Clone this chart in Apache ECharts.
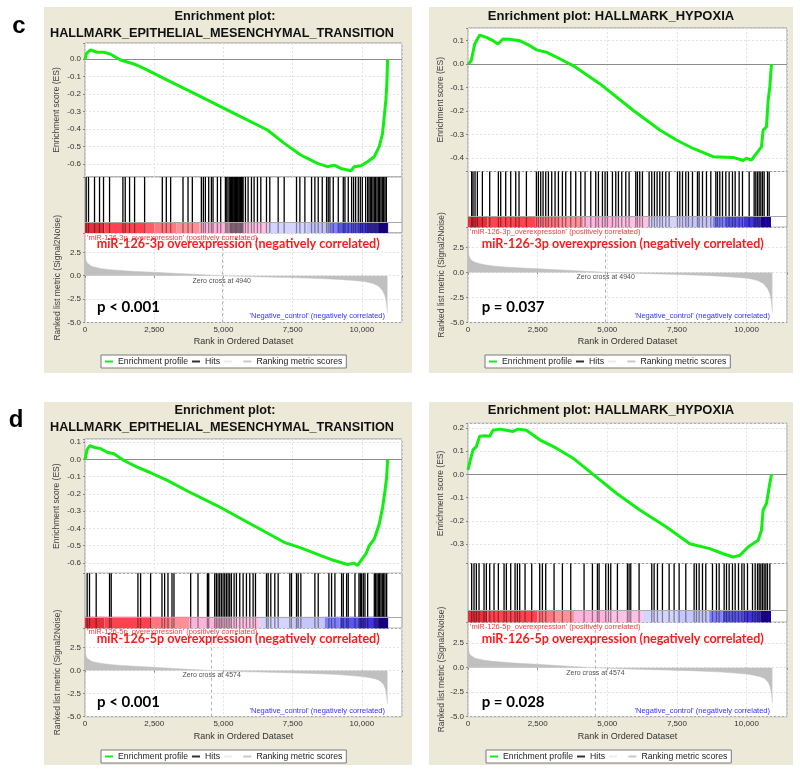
<!DOCTYPE html>
<html><head><meta charset="utf-8">
<script src="https://cdn.jsdelivr.net/npm/echarts@6/dist/echarts.min.js"></script>
<style>html,body{margin:0;padding:0;background:#fff;}#main{width:800px;height:773px;}</style>
</head><body><div id="main"></div>
<script>
// ---------------- DATA ----------------
const rankTickLabels = ['0', '2,500', '5,000', '7,500', '10,000'];
const rankTickValues = [0, 2500, 5000, 7500, 10000];

// Enrichment score curves
const emt3pRank = [0, 54, 199, 440, 680, 922, 1284, 1765, 2127, 2972, 4177, 5383, 6590, 7190, 7793, 8397, 8760, 8999, 9240, 9602, 9723, 9964, 10205, 10446, 10627, 10748, 10808, 10868, 10904, 10929];
const emt3pES   = [0, 0.034, 0.053, 0.04, 0.04, 0.029, -0.004, -0.027, -0.052, -0.119, -0.214, -0.31, -0.405, -0.48, -0.548, -0.596, -0.615, -0.606, -0.625, -0.638, -0.615, -0.61, -0.587, -0.558, -0.5, -0.424, -0.33, -0.233, -0.138, 0];

const hyp3pRank = [0, 120, 240, 419, 658, 898, 1077, 1257, 1496, 1855, 2214, 2454, 2813, 3292, 3771, 4728, 5925, 6883, 7481, 8080, 8798, 9516, 9875, 9995, 10174, 10354, 10533, 10593, 10713, 10773, 10833, 10893];
const hyp3pES   = [0, 0.016, 0.086, 0.124, 0.114, 0.10, 0.086, 0.107, 0.106, 0.10, 0.079, 0.061, 0.051, 0.023, -0.006, -0.083, -0.196, -0.28, -0.323, -0.359, -0.394, -0.397, -0.41, -0.401, -0.408, -0.38, -0.352, -0.281, -0.267, -0.154, -0.097, 0];

const emt5pRank = [0, 78, 175, 320, 560, 802, 1043, 1405, 1887, 2370, 2973, 3696, 4781, 5987, 7193, 7795, 8518, 9000, 9483, 9724, 9845, 9966, 10146, 10267, 10448, 10629, 10750, 10834, 10894, 10930];
const emt5pES   = [0, 0.058, 0.08, 0.071, 0.063, 0.042, 0.033, -0.006, -0.044, -0.077, -0.121, -0.183, -0.269, -0.375, -0.481, -0.513, -0.558, -0.587, -0.61, -0.602, -0.615, -0.587, -0.548, -0.5, -0.462, -0.375, -0.279, -0.183, -0.106, 0];

const hyp5pRank = [0, 84, 180, 300, 419, 599, 778, 898, 1137, 1377, 1616, 1796, 2095, 2574, 3172, 3771, 4489, 5327, 6165, 7122, 7960, 8678, 9157, 9516, 9756, 10055, 10414, 10533, 10593, 10713, 10833, 10893];
const hyp5pES   = [0.02, 0.063, 0.106, 0.12, 0.164, 0.166, 0.164, 0.19, 0.195, 0.19, 0.185, 0.195, 0.19, 0.149, 0.113, 0.07, 0.0, -0.081, -0.153, -0.226, -0.298, -0.319, -0.341, -0.355, -0.348, -0.312, -0.283, -0.24, -0.153, -0.125, -0.038, 0];

// Hit positions (ranks)
const emt3pHits = [42, 127, 344, 525, 669, 887, 1369, 1453, 1610, 1791, 2153, 2792, 2937, 3093, 3540, 3721, 3877, 4203, 4275, 4348, 4468, 4565, 4625, 4782, 4902, 5071, 5120, 5168, 5228, 5260, 5288, 5320, 5349, 5380, 5409, 5440, 5469, 5500, 5530, 5560, 5590, 5620, 5650, 5680, 5711, 5795, 5891, 6012, 6108, 6229, 6350, 6555, 6675, 6977, 7194, 7640, 7761, 7942, 8183, 8303, 8424, 8569, 8725, 8786, 8846, 8967, 9148, 9329, 9389, 9509, 9630, 9702, 9775, 9871, 9944, 10016, 10137, 10209, 10257, 10305, 10354, 10402, 10450, 10498, 10547, 10595, 10643, 10691, 10739, 10788, 10836, 10884];
const hyp3pHits = [132, 180, 252, 336, 516, 779, 1090, 1174, 1353, 1533, 1713, 1832, 2096, 2455, 2526, 2610, 2694, 2790, 2886, 3005, 3125, 3245, 3388, 3508, 3688, 3867, 4047, 4202, 4406, 4585, 4681, 4825, 4920, 5004, 5184, 5304, 5399, 5519, 5663, 5782, 6022, 6082, 6165, 6261, 6501, 6596, 6692, 6788, 6884, 6979, 7099, 7219, 7518, 7602, 7698, 7817, 7913, 8057, 8236, 8296, 8416, 8559, 8715, 8895, 8954, 9038, 9134, 9254, 9373, 9493, 9589, 9732, 9852, 10092, 10271, 10331, 10391, 10451, 10510, 10570, 10630, 10750, 10810];
const emt5pHits = [78, 163, 404, 887, 947, 1912, 2008, 2370, 2780, 2876, 2997, 3142, 3214, 3817, 4082, 4420, 4468, 4685, 4746, 4806, 4866, 4927, 4987, 5047, 5108, 5168, 5228, 5288, 5385, 5469, 5590, 5711, 5831, 5952, 6072, 6157, 6555, 6615, 6711, 6856, 6977, 7399, 7459, 7640, 7700, 7797, 8303, 8424, 8810, 8906, 9027, 9268, 9329, 9449, 9509, 9751, 9895, 9944, 9992, 10052, 10112, 10209, 10450, 10498, 10547, 10595, 10643, 10691, 10739, 10788, 10836, 10896];
const hyp5pHits = [132, 216, 300, 396, 575, 659, 779, 934, 1090, 1294, 1377, 1533, 1689, 1772, 1856, 2048, 2287, 2574, 2670, 2790, 3089, 3388, 3688, 4166, 4466, 4645, 4705, 4944, 5040, 5124, 5363, 5722, 5782, 5842, 6141, 6596, 6680, 6800, 6979, 7219, 7398, 7578, 7817, 8116, 8200, 8296, 8416, 8535, 8775, 8918, 9014, 9194, 9278, 9373, 9493, 9589, 9709, 9829, 9912, 10032, 10212, 10307, 10391, 10451, 10510, 10570, 10630, 10690, 10750, 10834];

// Colour bar bands (rank edges, metric level per band)
const emt3pBandEdges = [0, 700, 2150, 2510, 3300, 4140, 5045, 6590, 8000, 8845, 9145, 9900, 10590, 10950];
const emt3pBandLevels = [0, 1, 2, 3, 4, 5, 6, 7, 8, 9, 10, 11, 12];
const hyp3pBandEdges = [0, 700, 2430, 3300, 4130, 5300, 6500, 7700, 8780, 9260, 9900, 10510, 10875];
const hyp3pBandLevels = [0, 1, 3, 4, 5, 6, 7, 8, 9, 10, 11, 12];
const emt5pBandEdges = [0, 700, 2390, 3100, 3780, 5000, 6310, 7500, 8660, 9200, 9900, 10590, 10950];
const emt5pBandLevels = [0, 1, 3, 4, 5, 6, 7, 8, 9, 10, 11, 12];
const hyp5pBandEdges = [0, 700, 2490, 3150, 3810, 5000, 6260, 7500, 8660, 9140, 9900, 10510, 10875];
const hyp5pBandLevels = [0, 1, 3, 4, 5, 6, 7, 8, 9, 10, 11, 12];

// Ranked list metric (Signal2Noise)
const metric3pRank  = [0, 15, 40, 80, 150, 250, 400, 600, 900, 1300, 1800, 2500, 3200, 4000, 4600, 4940, 5500, 6500, 7500, 8500, 9200, 9700, 10100, 10400, 10600, 10750, 10830, 10880, 10905, 10925];
const metric3pValue = [2.7, 2.0, 1.6, 1.35, 1.15, 1.0, 0.88, 0.76, 0.65, 0.55, 0.46, 0.36, 0.26, 0.15, 0.06, 0.0, -0.06, -0.13, -0.2, -0.3, -0.4, -0.5, -0.62, -0.82, -1.1, -1.6, -2.1, -2.7, -3.3, -4.0];
const metric5pRank  = [0, 15, 40, 80, 150, 250, 400, 600, 900, 1300, 1800, 2500, 3200, 3900, 4574, 5200, 6000, 7000, 8000, 9000, 9600, 10000, 10300, 10500, 10650, 10780, 10850, 10895, 10925];
const metric5pValue = [2.5, 1.9, 1.55, 1.3, 1.12, 0.98, 0.87, 0.76, 0.65, 0.55, 0.45, 0.35, 0.22, 0.1, 0.0, -0.08, -0.15, -0.22, -0.3, -0.42, -0.55, -0.65, -0.78, -0.92, -1.1, -1.5, -2.0, -2.7, -3.6];
const zeroCross3p = 4940;
const zeroCross5p = 4574;

// Texts
const panelLetters = ['c', 'd'];
const titleEmtLine1 = 'Enrichment plot:';
const titleEmtLine2 = 'HALLMARK_EPITHELIAL_MESENCHYMAL_TRANSITION';
const titleHypoxia = 'Enrichment plot: HALLMARK_HYPOXIA';
const posLabel3p = "'miR-126-3p_overexpression' (positively correlated)";
const posLabel5p = "'miR-126-5p_overexpression' (positively correlated)";
const negLabel = "'Negative_control' (negatively correlated)";
const bigLabel3p = 'miR-126-3p overexpression (negatively correlated)';
const bigLabel5p = 'miR-126-5p overexpression (negatively correlated)';
const pValues = ['p < 0.001', 'p = 0.037', 'p < 0.001', 'p = 0.028'];
const legendNames = ['Enrichment profile', 'Hits', ' ', 'Ranking metric scores'];

// ---------------- STYLE / LAYOUT ----------------
const palette = ['#e8303c', '#ff4250', '#ff5c68', '#ff7880', '#ff9098', '#ffb4dc', '#ffc2e4', '#d4d4ff', '#c6c6fc', '#8080ff', '#5a56ec', '#4434dc', '#2200bc'];
const BEIGE = '#ece9d8';
const X_MAX = 11450;
const zip = (a, b) => a.map((v, i) => [v, b[i]]);
const bandsOf = (edges, levels) => levels.map((lv, i) => [edges[i], edges[i + 1], lv]);

const panels = [
  { box: [44, 7, 368, 366], left: 85, width: 317, esTop: 43, stripTop: 177, cbTop: 222, metTop: 233, metBot: 322.5,
    esMin: -0.674, esMax: 0.093, metMax: 4.57, esGap: 24, metGap: 23, legendLeft: 101, legendTop: 355,
    es: zip(emt3pRank, emt3pES), hits: emt3pHits, bands: bandsOf(emt3pBandEdges, emt3pBandLevels),
    metric: zip(metric3pRank, metric3pValue), zc: zeroCross3p,
    titles: [[titleEmtLine1, 225, 16.7, 12.7], [titleEmtLine2, 222, 33, 12.7]],
    small: [posLabel3p, 87, 237.7], big: [bigLabel3p, 96.7, 244, 283], p: [pValues[0], 97, 306.7], neg: [negLabel, 385, 316] },
  { box: [429, 7, 364, 366], left: 468, width: 319, esTop: 28, stripTop: 171.5, cbTop: 216.7, metTop: 227.3, metBot: 322.5,
    esMin: -0.457, esMax: 0.154, metMax: 4.5, esGap: 23, metGap: 21, legendLeft: 485, legendTop: 355,
    es: zip(hyp3pRank, hyp3pES), hits: hyp3pHits, bands: bandsOf(hyp3pBandEdges, hyp3pBandLevels),
    metric: zip(metric3pRank, metric3pValue), zc: zeroCross3p,
    titles: [[titleHypoxia, 611, 16.7, 13]],
    small: [posLabel3p, 470, 232.3], big: [bigLabel3p, 481.7, 244, 282], p: [pValues[1], 481.7, 306.7], neg: [negLabel, 770, 316] },
  { box: [44, 402, 368, 363], left: 85, width: 317, esTop: 439, stripTop: 573.3, cbTop: 616.7, metTop: 628.3, metBot: 716.7,
    esMin: -0.661, esMax: 0.119, metMax: 4.56, esGap: 24, metGap: 23, legendLeft: 101, legendTop: 750,
    es: zip(emt5pRank, emt5pES), hits: emt5pHits, bands: bandsOf(emt5pBandEdges, emt5pBandLevels),
    metric: zip(metric5pRank, metric5pValue), zc: zeroCross5p,
    titles: [[titleEmtLine1, 225, 410.7, 12.7], [titleEmtLine2, 222, 427.3, 12.7]],
    small: [posLabel5p, 87, 631.7], big: [bigLabel5p, 96.7, 638.3, 283], p: [pValues[2], 97, 701.7], neg: [negLabel, 385, 710.7] },
  { box: [429, 402, 364, 363], left: 468, width: 319, esTop: 423.3, stripTop: 563.5, cbTop: 610, metTop: 622.3, metBot: 716.7,
    esMin: -0.383, esMax: 0.22, metMax: 4.64, esGap: 23, metGap: 21, legendLeft: 486, legendTop: 750,
    es: zip(hyp5pRank, hyp5pES), hits: hyp5pHits, bands: bandsOf(hyp5pBandEdges, hyp5pBandLevels),
    metric: zip(metric5pRank, metric5pValue), zc: zeroCross5p,
    titles: [[titleHypoxia, 611, 410.7, 13]],
    small: [posLabel5p, 470, 626.7], big: [bigLabel5p, 481.7, 639, 282], p: [pValues[3], 481.7, 701.7], neg: [negLabel, 770, 710.7] }
];

const FONT = "'Liberation Sans', Arial, sans-serif";
const BIGFONT = "bold 13.5px Lato, 'Open Sans', sans-serif";
const PFONT = "bold 15px Lato, 'Liberation Sans', sans-serif";
const measureCtx = document.createElement('canvas').getContext('2d');
const textWidth = (t, f) => { measureCtx.font = f; return measureCtx.measureText(t).width; };

const fmtStep = step => v => {
  const k = v / step;
  if (Math.abs(k - Math.round(k)) > 1e-6) return '';
  const r = Math.round(k) * step;
  return (Math.abs(r) < 1e-9 ? 0 : r).toFixed(1);
};
const fmtRank = v => { const i = rankTickValues.indexOf(Math.round(v)); return i >= 0 ? rankTickLabels[i] : ''; };
const gridLine = { show: true, lineStyle: { color: '#e2e2e2', type: [2, 2], width: 1 } };

const grid = [], xAxis = [], yAxis = [], series = [], legend = [], graphic = [];

panels.forEach((P, pi) => {
  const g0 = grid.length;
  const gBase = { left: P.left, width: P.width, show: true, backgroundColor: '#fff', borderColor: '#9a9a9a', borderWidth: 1 };
  grid.push(Object.assign({}, gBase, { top: P.esTop, height: P.stripTop - P.esTop }));
  grid.push(Object.assign({}, gBase, { top: P.stripTop, height: P.metTop - P.stripTop }));
  grid.push(Object.assign({}, gBase, { top: P.metTop, height: P.metBot - P.metTop }));
  const cbFrac = (P.metTop - P.cbTop) / (P.metTop - P.stripTop);

  [0, 1, 2].forEach(k => {
    const isMet = k === 2;
    xAxis.push({
      type: 'value', gridIndex: g0 + k, min: 0, max: X_MAX, interval: 2500,
      axisLine: { show: false }, axisTick: { show: isMet, length: 2, lineStyle: { color: '#888' } },
      axisLabel: { show: isMet, formatter: fmtRank, fontSize: 8, color: '#333', fontFamily: FONT, margin: 3 },
      splitLine: k === 1 ? { show: false } : gridLine,
      name: isMet ? 'Rank in Ordered Dataset' : '', nameLocation: 'middle', nameGap: 15,
      nameTextStyle: { fontSize: 9, color: '#333', fontFamily: FONT }
    });
  });
  yAxis.push({
    type: 'value', gridIndex: g0, min: P.esMin, max: P.esMax, minInterval: 0.1, maxInterval: 0.1,
    axisLine: { show: false }, axisTick: { show: true, length: 2, lineStyle: { color: '#888' } },
    axisLabel: { formatter: fmtStep(0.1), fontSize: 8, color: '#333', fontFamily: FONT, margin: 4 },
    splitLine: gridLine,
    name: 'Enrichment score (ES)', nameLocation: 'middle', nameGap: P.esGap, nameRotate: 90,
    nameTextStyle: { fontSize: 8.5, color: '#444', fontFamily: FONT }
  });
  yAxis.push({ type: 'value', gridIndex: g0 + 1, min: 0, max: 1, show: false, splitLine: { show: false } });
  yAxis.push({
    type: 'value', gridIndex: g0 + 2, min: -5, max: P.metMax, minInterval: 2.5, maxInterval: 2.5,
    axisLine: { show: false }, axisTick: { show: true, length: 2, lineStyle: { color: '#888' } },
    axisLabel: { formatter: fmtStep(2.5), fontSize: 8, color: '#333', fontFamily: FONT, margin: 4 },
    splitLine: gridLine,
    name: 'Ranked list metric (Signal2Noise)', nameLocation: 'middle', nameGap: P.metGap, nameRotate: 90,
    nameTextStyle: { fontSize: 8.5, color: '#444', fontFamily: FONT }
  });

  // Ranked metric area
  series.push({
    name: 'Ranking metric scores', type: 'line', xAxisIndex: g0 + 2, yAxisIndex: g0 + 2,
    data: P.metric, symbol: 'none', color: '#c0c0c0',
    lineStyle: { width: 0.5, color: '#c0c0c0' }, areaStyle: { color: '#c0c0c0', opacity: 1 },
    markLine: { silent: true, symbol: ['none', 'none'], label: { show: false },
      lineStyle: { color: '#b4b4b4', type: [3, 3], width: 1 }, data: [{ xAxis: P.zc }] }
  });
  // Zero cross label
  series.push({
    type: 'scatter', xAxisIndex: g0 + 2, yAxisIndex: g0 + 2, data: [[P.zc, 0]], symbolSize: 1,
    itemStyle: { color: 'rgba(0,0,0,0)' }, silent: true,
    label: { show: true, position: 'bottom', distance: 1, formatter: 'Zero cross at ' + P.zc,
      fontSize: 7, color: '#222', fontFamily: FONT }
  });
  // Colour bar
  series.push({
    type: 'custom', xAxisIndex: g0 + 1, yAxisIndex: g0 + 1, data: P.bands, silent: true,
    encode: { x: [0, 1], y: 2 },
    renderItem: (params, api) => {
      const s = api.coord([api.value(0), cbFrac]);
      const e = api.coord([api.value(1), 0]);
      return { type: 'rect', shape: { x: s[0], y: s[1], width: e[0] - s[0], height: e[1] - s[1] },
        style: { fill: palette[api.value(2)] } };
    },
    markLine: { silent: true, symbol: ['none', 'none'], label: { show: false },
      lineStyle: { color: '#a8a8a8', type: 'solid', width: 1 }, data: [{ yAxis: cbFrac }] }
  });
  // Hits (solid in the hit strip, translucent across the colour bar)
  series.push({
    name: 'Hits', type: 'custom', xAxisIndex: g0 + 1, yAxisIndex: g0 + 1, silent: true,
    data: P.hits.map(r => [r, 0.5]), encode: { x: 0, y: 1 }, itemStyle: { color: '#222' },
    renderItem: (params, api) => {
      const a = api.coord([api.value(0), 0]);
      const m = api.coord([api.value(0), cbFrac]);
      const b = api.coord([api.value(0), 1]);
      const x = a[0];
      return { type: 'group', children: [
        { type: 'line', shape: { x1: x, y1: m[1], x2: x, y2: b[1] }, style: { stroke: '#000', lineWidth: 1.3 } },
        { type: 'line', shape: { x1: x, y1: a[1], x2: x, y2: m[1] }, style: { stroke: '#000', lineWidth: 1.3, opacity: 0.4 } }
      ] };
    }
  });
  // Enrichment profile
  series.push({
    name: 'Enrichment profile', type: 'line', xAxisIndex: g0, yAxisIndex: g0,
    data: P.es, symbol: 'none', color: '#11ee11', lineStyle: { color: '#11ee11', width: 3 }, z: 5,
    markLine: { silent: true, symbol: ['none', 'none'], label: { show: false },
      lineStyle: { color: '#8c8c8c', type: 'solid', width: 1 }, data: [{ yAxis: 0 }] }
  });
  if (pi === 0) {
    series.push({ name: ' ', type: 'line', xAxisIndex: g0, yAxisIndex: g0, data: [], color: '#ececec' });
  }

  legend.push({
    left: P.legendLeft, top: P.legendTop, orient: 'horizontal', selectedMode: false,
    backgroundColor: '#fff', borderColor: '#7a7a7a', borderWidth: 1, borderRadius: 0, padding: [2, 4],
    itemWidth: 8, itemHeight: 2, itemGap: 4, icon: 'rect',
    textStyle: { fontSize: 8.7, color: '#222', fontFamily: FONT },
    data: [
      { name: legendNames[0], itemStyle: { color: '#11ee11' } },
      { name: legendNames[1], itemStyle: { color: '#333' } },
      { name: legendNames[2], itemStyle: { color: '#ececec' } },
      { name: legendNames[3], itemStyle: { color: '#c8c8c8' } }
    ]
  });

  // Background panel and texts
  graphic.push({ type: 'rect', z: -100, shape: { x: P.box[0], y: P.box[1], width: P.box[2], height: P.box[3] },
    style: { fill: BEIGE }, silent: true });
  P.titles.forEach(t => graphic.push({ type: 'text', z: 10, x: t[1], y: t[2], silent: true,
    style: { text: t[0], font: 'bold ' + t[3] + 'px ' + FONT, fill: '#111', align: 'center', verticalAlign: 'middle' } }));
  graphic.push({ type: 'text', z: 10, x: P.small[1], y: P.small[2], silent: true,
    style: { text: P.small[0], font: '7.5px ' + FONT, fill: '#f04040', align: 'left', verticalAlign: 'middle' } });
  graphic.push({ type: 'text', z: 11, x: P.big[1], y: P.big[2], silent: true,
    scaleX: P.big[3] / textWidth(P.big[0], BIGFONT),
    style: { text: P.big[0], font: BIGFONT, fill: '#ff1a1a', align: 'left', verticalAlign: 'middle' } });
  graphic.push({ type: 'text', z: 10, x: P.p[1], y: P.p[2], silent: true,
    style: { text: P.p[0], font: PFONT, fill: '#000', align: 'left', verticalAlign: 'middle' } });
  graphic.push({ type: 'text', z: 10, x: P.neg[1], y: P.neg[2], silent: true,
    style: { text: P.neg[0], font: '7.5px ' + FONT, fill: '#3434ff', align: 'right', verticalAlign: 'middle' } });
});

graphic.push({ type: 'text', z: 10, x: 19, y: 26, silent: true,
  style: { text: panelLetters[0], font: 'bold 24px ' + FONT, fill: '#000', align: 'center', verticalAlign: 'middle' } });
graphic.push({ type: 'text', z: 10, x: 16, y: 420, silent: true,
  style: { text: panelLetters[1], font: 'bold 24px ' + FONT, fill: '#000', align: 'center', verticalAlign: 'middle' } });

const chart = echarts.init(document.getElementById('main'), null, { renderer: 'canvas' });
chart.setOption({
  animation: false, backgroundColor: '#fff',
  grid, xAxis, yAxis, series, legend, graphic
});
</script></body></html>
